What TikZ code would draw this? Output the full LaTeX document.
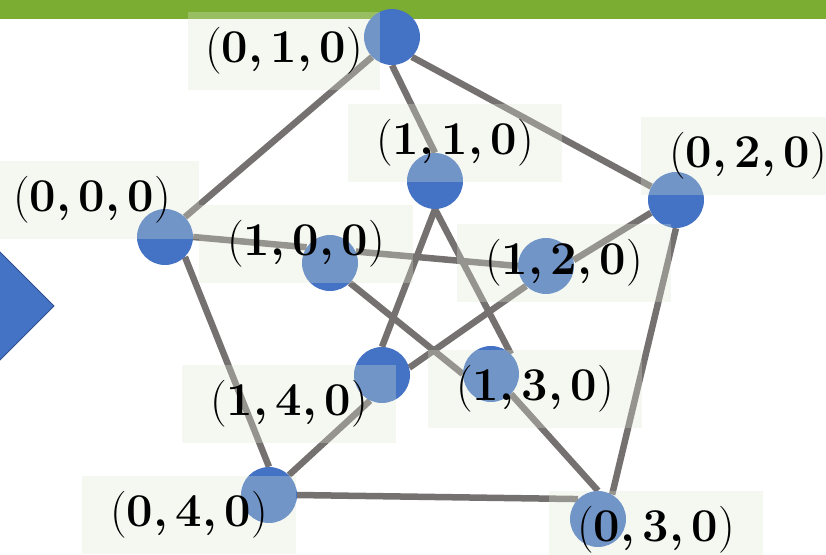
\documentclass[tikz,border=0pt]{standalone}
\usepackage{fontspec}
\pgfdeclarelayer{back}
\pgfsetlayers{back,main}
\definecolor{vblue}{RGB}{68,114,196}
\definecolor{vedge}{RGB}{118,113,113}
\definecolor{lpale}{RGB}{222,232,210}
\definecolor{band}{RGB}{122,173,49}
\definecolor{tridark}{RGB}{47,82,143}
\newcommand{\triple}[3]{(\textbf{#1,\,#2,\,#3})}

\begin{document}
\begin{tikzpicture}[x=1pt,y=-1pt,
  vtx/.style={circle,fill=vblue,inner sep=0pt,minimum size=56pt},
  lbl/.style={fill=lpale,fill opacity=0.3,text opacity=1,inner sep=0pt,
    minimum width=214pt,minimum height=78pt,font=\fontsize{47}{56}\selectfont},
  conn/.style={draw=vedge,line width=6.5pt}]
\useasboundingbox (0,0) rectangle (826,554);
\clip (0,0) rectangle (826,554);
% green strip and the arrow head on the left
\fill[band] (0,0) rectangle (826,19);
\filldraw[fill=vblue,draw=tridark,line width=1pt] (-20,232) -- (54,306) -- (-20,380) -- cycle;
% outer ring
\node[vtx] (v000) at (165,237) {};
\node[vtx] (v010) at (392,37) {};
\node[vtx] (v020) at (676,200) {};
\node[vtx] (v030) at (598,519) {};
\node[vtx] (v040) at (269,495) {};
% inner star
\node[vtx] (v100) at (330,263) {};
\node[vtx] (v110) at (435,181) {};
\node[vtx] (v120) at (546,266) {};
\node[vtx] (v130) at (491,374) {};
\node[vtx] (v140) at (382,375) {};
\begin{pgfonlayer}{back}
\draw[conn] (v000.north east) -- (v010.south west);
\draw[conn] (v010.south east) -- (v020);
\draw[conn] (v020.south) -- (v030.60);
\draw[conn] (v040.east) -- (v030.north west);
\draw[conn] (v000.south east) -- (v040.north);
\draw[conn] (v000.east) -- (v100.146);
\draw[conn] (v010.south) -- (v110.north);
\draw[conn] (v020.207) -- (v120.12);
\draw[conn] (v130.south east) -- (v030.north);
\draw[conn] (v040.north east) -- (v140.245);
\draw[conn] (v100.24) -- (v120.west);
\draw[conn] (v120.south west) -- (v140.15);
\draw[conn] (v110.south) -- (v140.north);
\draw[conn] (v110.south) -- (v130.north east);
\draw[conn] (v100.south east) -- (v130.west);
\end{pgfonlayer}
% labels
\node[lbl] (l000) at (92,200) {\triple{0}{0}{0}};
\node[lbl,minimum width=192pt] (l010) at (284,51) {\triple{0}{1}{0}};
\node[lbl] (l020) at (748,156) {\triple{0}{2}{0}};
\node[lbl] (l030) at (656,530) {\triple{0}{3}{0}};
\node[lbl] (l040) at (189,515) {\triple{0}{4}{0}};
\node[lbl] (l100) at (306,244) {\triple{1}{0}{0}};
\node[lbl] (l110) at (455,143) {\triple{1}{1}{0}};
\node[lbl] (l120) at (564,263) {\triple{1}{2}{0}};
\node[lbl] (l130) at (535,389) {\triple{1}{3}{0}};
\node[lbl] (l140) at (289,404) {\triple{1}{4}{0}};
\end{tikzpicture}
\end{document}
